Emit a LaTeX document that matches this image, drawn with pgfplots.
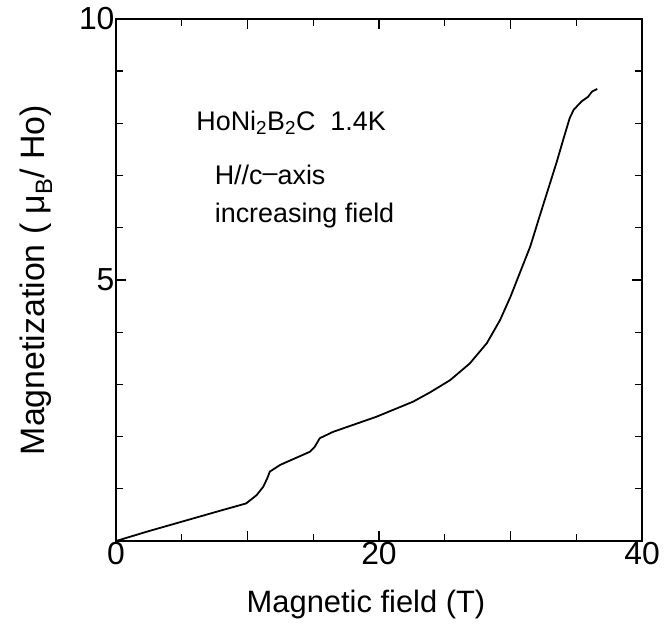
\documentclass[border=0pt]{standalone}
\usepackage{pgfplots}
\pgfplotsset{compat=1.18}
\usepackage{fontspec}
\setmainfont{Liberation Sans}
\begin{document}
\begin{tikzpicture}
  \begin{axis}[
      scale only axis,
      width=526bp, height=522bp,
      xmin=0, xmax=40, ymin=0, ymax=10,
      axis line style={line width=1.6pt},
      xtick={0,10,20,30,40},
      xticklabels={0,,20,,40},
      minor x tick num=1,
      ytick={0,5,10},
      yticklabels={,5,10},
      minor ytick={1,2,3,4,6,7,8,9},
      tick align=inside,
      major tick length=10bp,
      minor tick length=7bp,
      every tick/.style={line width=1.4pt, black},
      /pgf/number format/assume math mode=true,
      tick label style={font=\fontsize{32}{34}\selectfont},
      xticklabel style={yshift=2bp},
      yticklabel style={xshift=2bp},
      xlabel={Magnetic field (T)},
      ylabel={Magnetization ( μ\textsubscript{B}/ Ho)},
      xlabel style={font=\fontsize{31}{33}\selectfont, yshift=-18bp, xshift=-13bp},
      ylabel style={font=\fontsize{34}{36}\selectfont, yshift=20bp},
    ]
    \addplot[black, line width=1.8pt, line join=round] coordinates {
      (0,0) (2.5,0.19) (5,0.37) (7.5,0.55) (9.9,0.72) (10.7,0.88)
      (11.2,1.04) (11.5,1.2) (11.7,1.33) (12.5,1.46) (14.75,1.71)
      (15.1,1.8) (15.5,1.97) (16.5,2.09) (19.8,2.38) (22.6,2.67)
      (23.9,2.85) (25.4,3.08) (26.9,3.4) (28.2,3.79) (29.2,4.23)
      (30.0,4.68) (30.7,5.13) (31.5,5.64) (32.2,6.21) (33.0,6.85)
      (33.5,7.25) (34.0,7.68) (34.5,8.1) (34.8,8.26) (35.4,8.42)
      (35.9,8.51) (36.2,8.61) (36.6,8.66)
    };
    \node[anchor=base west, font=\fontsize{27}{30}\selectfont, inner sep=0pt]
      at (axis cs:6.1,7.87) {HoNi\textsubscript{2}B\textsubscript{2}C\ \ 1.4K};
    \node[anchor=base west, font=\fontsize{27}{30}\selectfont, inner sep=0pt]
      at (axis cs:7.5,6.82) {H//c\raisebox{0.25ex}{–}axis};
    \node[anchor=base west, font=\fontsize{27}{30}\selectfont, inner sep=0pt]
      at (axis cs:7.5,6.1) {increasing field};
  \end{axis}
  \path ([shift={(-116bp,-85bp)}]current axis.south west)
    rectangle ([shift={(22bp,19bp)}]current axis.north east);
\end{tikzpicture}
\end{document}
